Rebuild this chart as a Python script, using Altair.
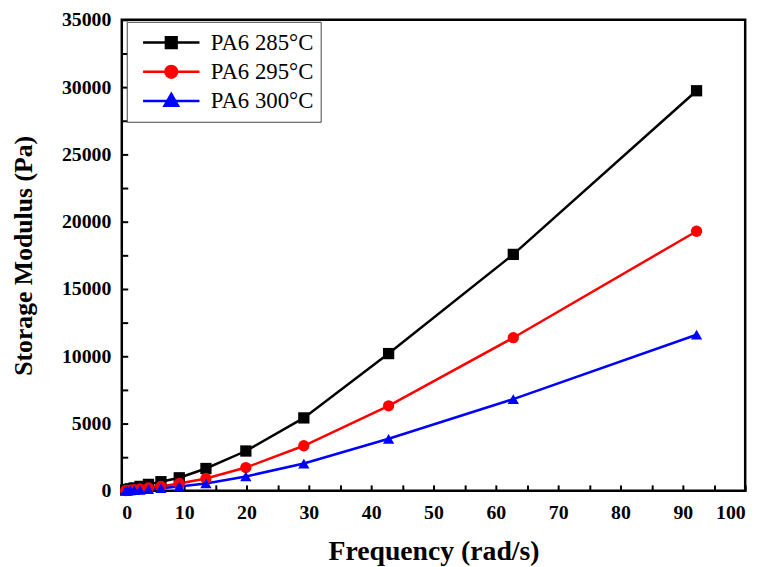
import altair as alt
import pandas as pd

freq = [0.628, 0.92, 1.35, 1.99, 2.92, 4.28, 6.28, 9.22, 13.5, 19.9, 29.2, 42.8, 62.8, 92.2]
g_285 = [60, 100, 150, 220, 330, 480, 680, 970, 1660, 2960, 5420, 10200, 17570, 29730]
g_295 = [25, 40, 60, 90, 140, 220, 330, 550, 920, 1730, 3350, 6320, 11380, 19290]
g_300 = [15, 20, 30, 50, 80, 120, 200, 330, 550, 1070, 2030, 3870, 6820, 11600]
series = ["PA6 285°C", "PA6 295°C", "PA6 300°C"]
colors = ["#000000", "#ff0000", "#0000ff"]
point_shapes = ["square", "circle", "triangle-up"]
legend_shapes = [
    "M-1,0H1M-0.19,-0.19H0.19V0.19H-0.19Z",
    "M-1,0H1M0.21,0A0.21,0.21,0,1,1,-0.21,0A0.21,0.21,0,1,1,0.21,0Z",
    "M-1,0H1M0,-0.25L0.24,0.17L-0.24,0.17Z",
]
x_ticks = list(range(0, 101, 5))
y_ticks = list(range(0, 35001, 2500))

rows = []
for name, vals in zip(series, [g_285, g_295, g_300]):
    for f, v in zip(freq, vals):
        rows.append({"freq": f, "G": v, "series": name})
df = pd.DataFrame(rows)

FONT = "Liberation Serif"
TICK = 6

x = alt.X(
    "freq:Q",
    scale=alt.Scale(domain=[0, 100], nice=False),
    axis=alt.Axis(
        values=x_ticks,
        labelExpr="datum.value % 10 === 0 ? datum.label : ''",
        title="Frequency (rad/s)",
        titleFontSize=28,
        titlePadding=15,
        labelPadding=12,
        offset=-TICK,
        tickSize=TICK,
        tickColor="#000000",
    ),
)
y = alt.Y(
    "G:Q",
    scale=alt.Scale(domain=[0, 35000], nice=False),
    axis=alt.Axis(
        values=y_ticks,
        format="d",
        labelExpr="datum.value % 5000 === 0 ? datum.label : ''",
        title="Storage Modulus (Pa)",
        titleFontSize=26,
        titlePadding=25,
        labelPadding=11,
        offset=-TICK,
        tickSize=TICK,
        tickColor="#000000",
    ),
)
color = alt.Color("series:N", scale=alt.Scale(domain=series, range=colors), legend=None)

lines = alt.Chart(df).mark_line(strokeWidth=2.5).encode(x=x, y=y, color=color, detail="series:N")
points = alt.Chart(df).mark_point(filled=True, size=130, opacity=1).encode(
    x=x,
    y=y,
    color=color,
    shape=alt.Shape("series:N", scale=alt.Scale(domain=series, range=point_shapes), legend=None),
)

leg = alt.Legend(
    title=None,
    orient="none",
    legendX=5,
    legendY=2,
    labelFont=FONT,
    labelFontSize=23,
    labelColor="#000000",
    symbolSize=3249,
    symbolStrokeWidth=2.5,
    symbolOffset=8,
    labelOffset=10,
    padding=7,
    clipHeight=28,
    rowPadding=1.5,
    strokeColor="#444444",
    fillColor="#ffffff",
)
legend_layer = alt.Chart(df).mark_point(
    filled=True, size=3249, strokeWidth=2.5, opacity=1, clip=True
).encode(
    x=alt.value(-3000),
    y=alt.value(-3000),
    fill=alt.Fill("series:N", scale=alt.Scale(domain=series, range=colors), legend=leg),
    stroke=alt.Stroke("series:N", scale=alt.Scale(domain=series, range=colors), legend=leg),
    shape=alt.Shape("series:N", scale=alt.Scale(domain=series, range=legend_shapes), legend=leg),
)

chart = (
    alt.layer(lines, points, legend_layer)
    .resolve_scale(shape="independent", fill="independent", stroke="independent")
    .properties(
        width=630,
        height=476,
        autosize=alt.AutoSizeParams(type="none"),
        padding={"left": 115, "top": 9, "right": 18, "bottom": 74},
        background="#ffffff",
    )
    .configure_view(stroke="#000000", strokeWidth=2.5)
    .configure_axis(
        grid=False,
        domain=False,
        tickWidth=2,
        labelFont=FONT,
        labelFontSize=20,
        labelFontWeight="bold",
        labelColor="#000000",
        titleFont=FONT,
        titleFontWeight="bold",
        titleColor="#000000",
    )
)

chart.save("out.html", embed_options={"renderer": "svg", "actions": False})
